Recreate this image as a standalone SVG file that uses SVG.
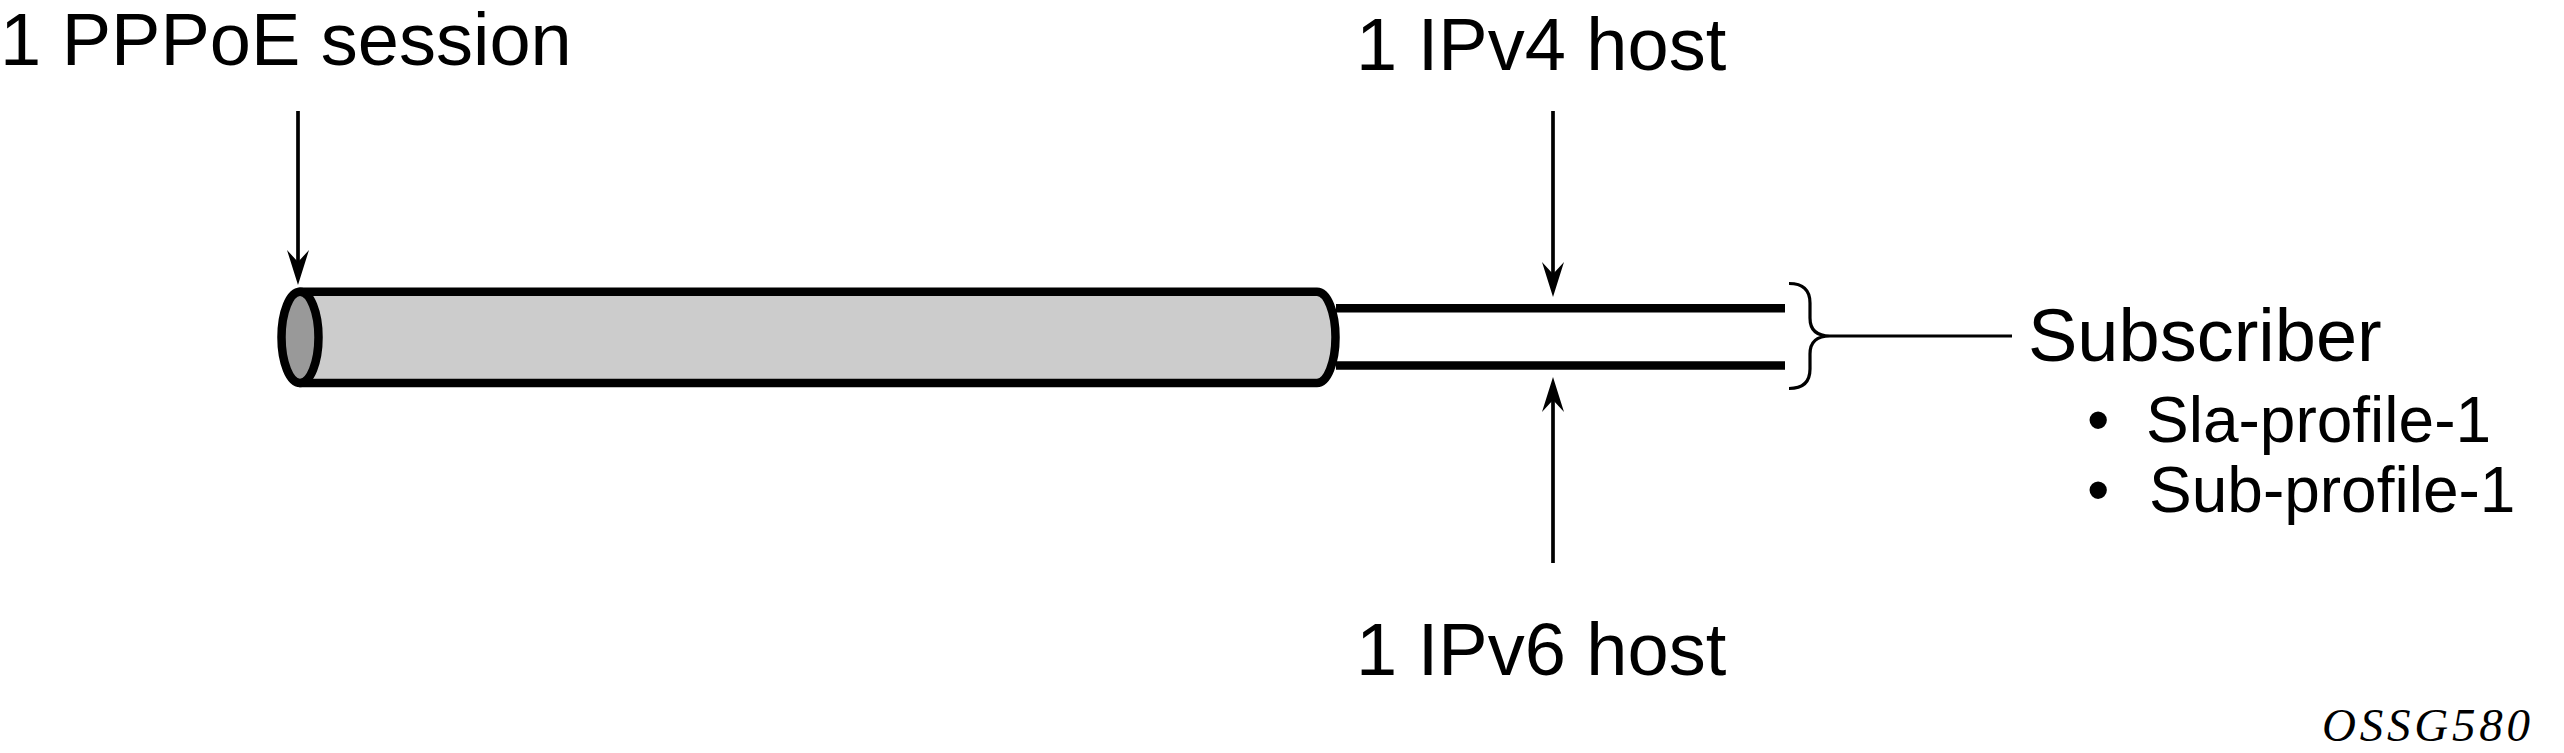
<svg xmlns="http://www.w3.org/2000/svg" width="2564" height="753" viewBox="0 0 2564 753">
<style>
.lbl{font-family:"Liberation Sans",Arial,sans-serif;fill:#000}
.big{font-size:74px}
.sm{font-size:64px}
.fig{font-family:"Liberation Serif","Times New Roman",serif;font-style:italic;font-size:47px;fill:#000}
.thick{stroke:#000;stroke-width:8.5;fill:none}
.conn{stroke:#000;stroke-width:3.7;fill:none}
.thin{stroke:#000;stroke-width:3.2;fill:none}
</style>
<defs>
<marker id="arr" markerUnits="userSpaceOnUse" markerWidth="36" markerHeight="30" refX="12" refY="15" orient="auto" overflow="visible">
<path d="M0,4 L35,15 L0,26 L12,15 Z" fill="#000"/>
</marker>
</defs>
<rect width="2564" height="753" fill="#fff"/>
<g id="session">
<path d="M300,291.7 H1317 A18.5,45.6 0 0 1 1317,383 H300 Z" fill="#cccccc" stroke="#000" stroke-width="8.5" stroke-linejoin="round"/>
<ellipse cx="300" cy="337.3" rx="18.5" ry="45.6" fill="#999999" stroke="#000" stroke-width="8.5"/>
</g>
<g id="hosts">
<line class="thick" x1="1336" y1="308.3" x2="1785" y2="308.3"/>
<line class="thick" x1="1336" y1="365.5" x2="1785" y2="365.5"/>
</g>
<g id="brace">
<path class="thin" d="M1789,283.5 C1804,283.5 1810,291 1810,303 V318 C1810,330 1817,336 1830,336 C1817,336 1810,342 1810,354 V369 C1810,381 1804,388.5 1789,388.5"/>
</g>
<g id="connectors">
<path class="conn" d="M298,111 V262" marker-end="url(#arr)"/>
<path class="conn" d="M1553,111 V274" marker-end="url(#arr)"/>
<path class="conn" d="M1553,563 V400" marker-end="url(#arr)"/>
<path class="thin" d="M1830,336 H2012"/>
</g>
<g id="label-pppoe">
<text class="lbl big" x="0" y="65">1 PPPoE session</text>
</g>
<g id="label-ipv4">
<text class="lbl big" x="1356" y="70">1 IPv4 host</text>
</g>
<g id="label-ipv6">
<text class="lbl big" x="1356" y="675">1 IPv6 host</text>
</g>
<g id="subscriber">
<text class="lbl big" x="2028" y="361">Subscriber</text>
<text class="lbl sm" x="2087" y="442">•</text>
<text class="lbl sm" x="2146" y="442">Sla-profile-1</text>
<text class="lbl sm" x="2087" y="512">•</text>
<text class="lbl sm" x="2149" y="512">Sub-profile-1</text>
</g>
<g id="figure-id">
<text class="fig" x="2322" y="741" textLength="208" lengthAdjust="spacing">OSSG580</text>
</g>
</svg>
